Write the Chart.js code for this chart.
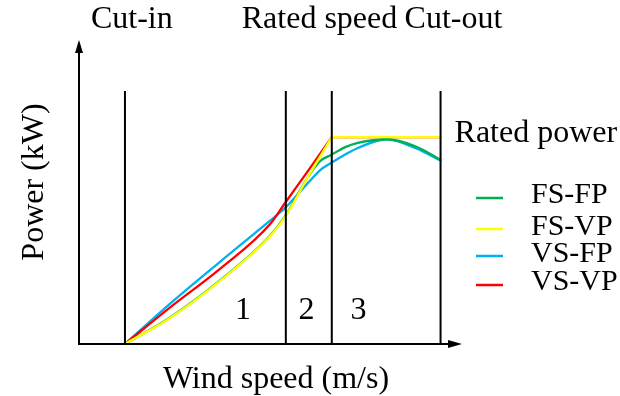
<!DOCTYPE html>
<html>
<head>
<meta charset="utf-8">
<style>
  html, body { margin: 0; padding: 0; background: #fff; }
  #wrap { width: 620px; height: 396px; }
</style>
</head>
<body>
<div id="wrap"><canvas id="powerCurve"></canvas></div>
<script src="https://cdn.jsdelivr.net/npm/chart.js@4/dist/chart.umd.min.js"></script>
<script>
// series
const seriesNames = ['FS-FP', 'FS-VP', 'VS-FP', 'VS-VP'];
const seriesColors = ['#00b050', '#ffff00', '#00b0f0', '#ff0000'];

// fixed pitch: whole range cut-in .. cut-out
const windFixed = [3, 5.95, 9.2, 12.45, 13.45, 14.95, 15.75, 16.45, 17.35, 18.2, 20.1, 21.95, 23.6];
const fsFp = [0, 0.128, 0.307, 0.522, 0.617, 0.808, 0.885, 0.914, 0.951, 0.972, 0.990, 0.956, 0.891];
const vsFp = [0, 0.195, 0.397, 0.595, 0.658, 0.779, 0.841, 0.875, 0.915, 0.948, 0.990, 0.948, 0.887];

// variable pitch: rises to rated speed, then held at rated power
const windVariable = [3, 5.95, 9.2, 12.45, 13.45, 14.95, 16.5];
const fsVp = [0, 0.126, 0.305, 0.520, 0.614, 0.808, 1];
const vsVp = [0, 0.177, 0.363, 0.578, 0.682, 0.837, 1];

const cutIn = 3;
const regionEdge = 13.5;
const ratedSpeed = 16.5;
const cutOut = 23.6;
const ratedPower = 1;
const markers = [cutIn, regionEdge, ratedSpeed, cutOut];
const markerTop = 1.223;

const FONT = '32px "Liberation Serif"';
const LEGEND_FONT = '30px "Liberation Serif"';

function pts(xs, ys) {
    return xs.map((v, i) => ({ x: v, y: ys[i] }));
}
function withPlateau(xs, ys) {
    return pts(xs, ys).concat([
        { x: ratedSpeed, y: null },
        { x: ratedSpeed, y: ratedPower },
        { x: cutOut, y: ratedPower }
    ]);
}
function markerLines() {
    const out = [];
    markers.forEach(m => {
        out.push({ x: m, y: 0 }, { x: m, y: markerTop }, { x: m, y: null });
    });
    return out;
}

const curve = (idx, data, order) => ({
    label: seriesNames[idx],
    data: data,
    borderColor: seriesColors[idx],
    borderWidth: 2.3,
    borderCapStyle: 'round',
    pointRadius: 0,
    fill: false,
    cubicInterpolationMode: 'monotone',
    order: order
});

const decorations = {
    id: 'decorations',
    afterDatasetsDraw(chart) {
        const { ctx, chartArea: a, scales: { x, y } } = chart;
        ctx.save();

        // axes with arrow heads
        ctx.strokeStyle = '#000';
        ctx.fillStyle = '#000';
        ctx.lineWidth = 2;
        ctx.beginPath();
        ctx.moveTo(a.left, a.top + 10);
        ctx.lineTo(a.left, a.bottom);
        ctx.lineTo(a.right - 10, a.bottom);
        ctx.stroke();
        ctx.beginPath();
        ctx.moveTo(a.left, a.top);
        ctx.lineTo(a.left - 4, a.top + 13);
        ctx.lineTo(a.left + 4, a.top + 13);
        ctx.closePath();
        ctx.fill();
        ctx.beginPath();
        ctx.moveTo(a.right, a.bottom);
        ctx.lineTo(a.right - 14, a.bottom - 4);
        ctx.lineTo(a.right - 14, a.bottom + 4);
        ctx.closePath();
        ctx.fill();

        // labels
        ctx.font = FONT;
        ctx.fillStyle = '#000';
        ctx.textBaseline = 'alphabetic';
        ctx.textAlign = 'left';
        ctx.fillText('Cut-in', x.getPixelForValue(cutIn) - 34, 28);
        ctx.fillText('Rated speed', x.getPixelForValue(ratedSpeed) - 90, 28);
        ctx.fillText('Cut-out', x.getPixelForValue(cutOut) - 36, 28);
        ctx.fillText('Rated power', x.getPixelForValue(cutOut) + 14, y.getPixelForValue(ratedPower) + 5);

        ctx.textAlign = 'center';
        ctx.fillText('1', 243, 319);
        ctx.fillText('2', 306.5, 319);
        ctx.fillText('3', 358.5, 319);

        ctx.fillText('Wind speed (m/s)', 276, 388);
        ctx.save();
        ctx.translate(43, 182);
        ctx.rotate(-Math.PI / 2);
        ctx.fillText('Power (kW)', 0, 0);
        ctx.restore();

        // legend
        const lineRows = [198, 229, 256, 285];
        const textRows = [203, 235, 262, 290];
        ctx.font = LEGEND_FONT;
        ctx.textAlign = 'left';
        seriesNames.forEach((name, i) => {
            ctx.strokeStyle = seriesColors[i];
            ctx.lineWidth = 2.5;
            ctx.beginPath();
            ctx.moveTo(476, lineRows[i]);
            ctx.lineTo(503, lineRows[i]);
            ctx.stroke();
            ctx.fillStyle = '#000';
            ctx.fillText(name, 531, textRows[i]);
        });

        ctx.restore();
    }
};

new Chart(document.getElementById('powerCurve'), {
    type: 'line',
    data: {
        datasets: [
            curve(0, pts(windFixed, fsFp), 1),
            curve(1, withPlateau(windVariable, fsVp), 0),
            curve(2, pts(windFixed, vsFp), 3),
            curve(3, withPlateau(windVariable, vsVp), 2),
            {
                label: 'markers',
                data: markerLines(),
                borderColor: '#000',
                borderWidth: 2,
                pointRadius: 0,
                tension: 0,
                fill: false,
                order: -1
            }
        ]
    },
    options: {
        responsive: true,
        maintainAspectRatio: false,
        animation: false,
        events: [],
        layout: { padding: { left: 79, right: 158, top: 40, bottom: 52 } },
        scales: {
            x: { type: 'linear', min: 0, max: 25, display: false },
            y: { type: 'linear', min: 0, max: 1.47, display: false }
        },
        plugins: {
            legend: { display: false },
            tooltip: { enabled: false }
        }
    },
    plugins: [decorations]
});
</script>
</body>
</html>
